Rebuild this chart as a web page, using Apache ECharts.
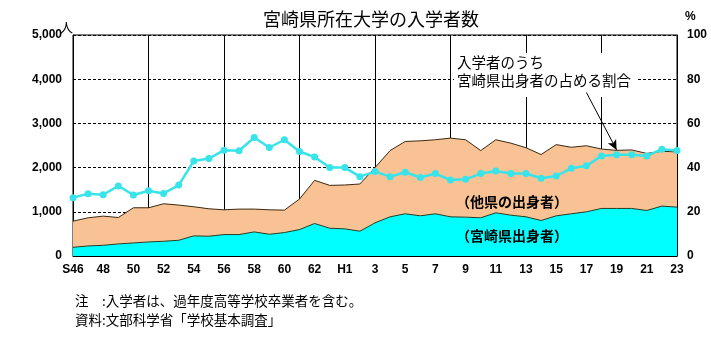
<!DOCTYPE html>
<html><head><meta charset="utf-8">
<script src="https://cdn.jsdelivr.net/npm/echarts@6/dist/echarts.min.js"></script>
<style>html,body{margin:0;padding:0;background:#fff}#c{width:711px;height:344px}</style>
</head><body><div id="c"></div>
<script>
const categories = ['S46','47','48','49','50','51','52','53','54','55','56','57','58','59','60','61','62','63',
  'H1','2','3','4','5','6','7','8','9','10','11','12','13','14','15','16','17','18','19','20','21','22','23'];
// 宮崎県出身者（人）
const miyazaki = [197,227,242,273,295,318,333,356,455,447,485,485,545,492,530,598,735,629,614,561,
  750,886,955,909,955,886,879,864,977,924,886,803,909,955,1000,1076,1076,1076,1030,1129,1106];
// 他県の出身者（人）
const otherPref = [591,637,660,598,796,773,849,796,659,621,560,576,516,553,508,690,977,969,992,1068,
  1250,1500,1636,1697,1675,1781,1751,1522,1653,1629,1564,1492,1611,1505,1495,1344,1314,1324,1290,1241,1249];
// 宮崎県出身者の占める割合（%）
const sharePct = [26.4,28.2,27.7,31.7,27.6,29.5,28.3,32.1,43.0,44.1,47.9,47.6,53.6,49.1,52.6,47.3,44.8,40.0,40.0,35.9,
  38.2,35.9,37.9,35.5,37.3,34.4,34.7,37.3,38.5,37.3,37.3,35.2,36.2,39.7,40.8,45.3,45.8,45.8,45.3,48.3,47.7];
const leftTicks = [0,1000,2000,3000,4000,5000];
const rightTicks = [0,20,40,60,80,100];

const jp = '"Noto Sans CJK JP", sans-serif';
const num = '"Liberation Sans", Arial, sans-serif';
const chart = echarts.init(document.getElementById('c'));
chart.setOption({
  animation: false,
  backgroundColor: '#fff',
  title: {
    text: '宮崎県所在大学の入学者数', left: 366, top: 5, textAlign: 'center',
    textStyle: { fontFamily: jp, fontSize: 18, fontWeight: 'normal', color: '#000' }
  },
  grid: { left: 73, right: 34, top: 35, bottom: 88, show: true, borderColor: '#000', borderWidth: 1, backgroundColor: 'transparent' },
  xAxis: {
    type: 'category', data: categories, boundaryGap: false,
    axisLine: { lineStyle: { color: '#000', width: 1 } },
    axisTick: { show: false },
    axisLabel: { interval: 1, color: '#000', fontFamily: num, fontSize: 12, fontWeight: 'bold', margin: 8 },
    splitLine: { show: true, interval: (i) => i % 5 === 0, lineStyle: { color: '#000', width: 1, type: 'solid' } }
  },
  yAxis: [
    { type: 'value', min: leftTicks[0], max: leftTicks[leftTicks.length-1], interval: 1000,
      axisLine: { show: true, lineStyle: { color: '#000' } }, axisTick: { show: false },
      axisLabel: { color: '#000', fontFamily: num, fontSize: 12, fontWeight: 'bold', margin: 11,
        formatter: v => v.toLocaleString('en-US') },
      splitLine: { show: true, lineStyle: { color: '#000', type: [3,2], width: 1 } } },
    { type: 'value', min: rightTicks[0], max: rightTicks[rightTicks.length-1], interval: 20, position: 'right',
      axisLine: { show: true, lineStyle: { color: '#000' } }, axisTick: { show: false },
      axisLabel: { color: '#000', fontFamily: num, fontSize: 12, fontWeight: 'bold', margin: 10 },
      splitLine: { show: false } }
  ],
  series: [
    { name: '宮崎県出身者', type: 'line', stack: 'a', data: miyazaki, symbol: 'none',
      lineStyle: { color: '#2c3a20', width: 1 }, areaStyle: { color: '#00ffff', opacity: 1 }, z: 2 },
    { name: '他県の出身者', type: 'line', stack: 'a', data: otherPref, symbol: 'none',
      lineStyle: { color: '#3a2a10', width: 1 }, areaStyle: { color: '#f8c294', opacity: 1 }, z: 1 },
    { name: '割合', type: 'line', yAxisIndex: 1, data: sharePct, symbol: 'circle', symbolSize: 7,
      lineStyle: { color: '#38e4ea', width: 2.5 }, itemStyle: { color: '#38e4ea' }, z: 6,
      markLine: { silent: true, symbol: ['none', 'arrow'], symbolSize: [7, 10], label: { show: false },
        lineStyle: { color: '#000', width: 1, type: 'solid' },
        data: [[{ coord: ['17', 74] }, { coord: ['19', 48] }]] } }
  ],
  graphic: [
    { type: 'text', left: 60, top: 21, z: 10, style: { text: '人', font: '13px ' + jp, fill: '#000' } },
    { type: 'text', left: 685, top: 11, z: 10, style: { text: '%', font: 'bold 12px ' + num, fill: '#000' } },
    { type: 'rect', left: 454, top: 53, z: 4, shape: { width: 182, height: 44 }, style: { fill: '#fff' } },
    { type: 'text', left: 457, top: 55, z: 5, style: { text: '入学者のうち', font: '14.5px ' + jp, fill: '#000' } },
    { type: 'text', left: 457, top: 73, z: 5, style: { text: '宮崎県出身者の占める割合', font: '14.5px ' + jp, fill: '#000' } },
    { type: 'text', left: 456, top: 195, z: 10, style: { text: '（他県の出身者）', font: 'bold 14px ' + jp, fill: '#000' } },
    { type: 'text', left: 456, top: 229, z: 10, style: { text: '（宮崎県出身者）', font: 'bold 14px ' + jp, fill: '#000' } },
    { type: 'text', left: 75, top: 294, z: 10, style: { text: '注　:入学者は、過年度高等学校卒業者を含む。', font: '13.5px ' + jp, fill: '#000' } },
    { type: 'text', left: 75, top: 313, z: 10, style: { text: '資料:文部科学省「学校基本調査」', font: '13.5px ' + jp, fill: '#000' } }
  ]
});
</script></body></html>
